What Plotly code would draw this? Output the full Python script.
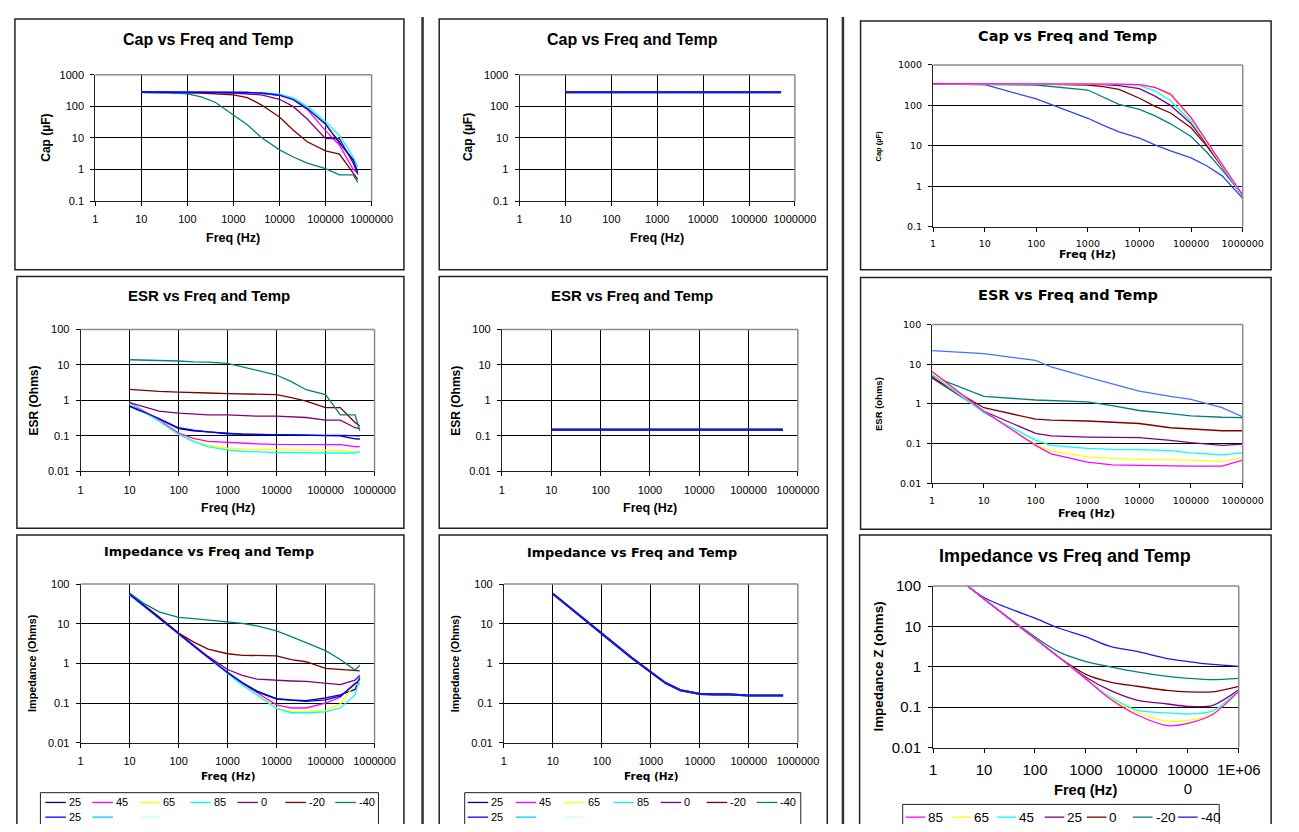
import plotly.graph_objects as go

# ---------------- DATA ----------------
freq_a = [10, 20, 40, 100, 200, 400, 1000, 2000, 4000, 10000, 20000, 40000, 100000, 200000, 400000, 500000]

temps_a = ["25", "45", "65", "85", "0", "-20", "-40", "25"]
colors_a = ["#000080", "#FF00FF", "#FFFF00", "#00FFFF", "#800080", "#800000", "#008080", "#0000FF"]
legend_extra_colors = ["#00CCFF", "#CCFFFF"]

cap_a_25 = [285, 285, 285, 285, 285, 283, 280, 275, 265, 230, 170, 85, 28, 7.5, 2.0, 0.75]
cap_a_45 = [280, 280, 280, 280, 280, 278, 275, 270, 260, 225, 160, 80, 17, 6, 1.0, 0.8]
cap_a_65 = [282, 282, 282, 282, 281, 280, 278, 273, 265, 235, 175, 90, 25, 9, 1.5, 1.3]
cap_a_85 = [285, 285, 285, 285, 285, 284, 282, 278, 272, 245, 185, 100, 33, 12, 2.5, 1.2]
cap_a_0 = [280, 280, 279, 278, 276, 272, 265, 250, 230, 168, 98, 40, 9.5, 9.5, 1.6, 0.7]
cap_a_m20 = [280, 280, 278, 270, 262, 250, 230, 190, 112, 46, 17.5, 7.6, 3.9, 3.1, 0.8, 0.49]
cap_a_m40 = [275, 272, 268, 250, 200, 135, 51, 26, 10.5, 4.2, 2.5, 1.6, 1.07, 0.68, 0.68, 0.39]
cap_a_25b = [285, 285, 285, 285, 285, 283, 280, 275, 265, 225, 165, 85, 27, 7, 2.0, 0.8]

esr_a_25 = [0.68, 0.45, 0.30, 0.16, 0.14, 0.13, 0.115, 0.112, 0.11, 0.105, 0.103, 0.102, 0.10, 0.10, 0.083, 0.082]
esr_a_45 = [0.85, 0.50, 0.28, 0.12, 0.085, 0.07, 0.065, 0.062, 0.06, 0.058, 0.058, 0.057, 0.057, 0.057, 0.05, 0.05]
esr_a_65 = [0.80, 0.46, 0.26, 0.11, 0.075, 0.055, 0.045, 0.043, 0.042, 0.04, 0.04, 0.04, 0.039, 0.039, 0.036, 0.035]
esr_a_85 = [0.85, 0.47, 0.26, 0.11, 0.07, 0.05, 0.04, 0.037, 0.035, 0.034, 0.034, 0.033, 0.033, 0.033, 0.033, 0.036]
esr_a_0 = [0.86, 0.65, 0.50, 0.44, 0.42, 0.39, 0.39, 0.37, 0.36, 0.36, 0.35, 0.33, 0.28, 0.28, 0.17, 0.16]
esr_a_m20 = [2.05, 1.9, 1.8, 1.72, 1.7, 1.62, 1.55, 1.5, 1.45, 1.45, 1.2, 0.96, 0.63, 0.63, 0.24, 0.19]
esr_a_m40 = [14, 13.7, 13.5, 12.9, 12.2, 12, 11, 8.8, 7.2, 5.2, 3.4, 2.0, 1.46, 0.39, 0.39, 0.14]
esr_a_25b = [0.70, 0.47, 0.31, 0.17, 0.145, 0.13, 0.118, 0.113, 0.11, 0.107, 0.105, 0.104, 0.103, 0.103, 0.102, 0.10]

imp_a_25 = [54, 27, 14, 5.5, 2.8, 1.4, 0.6, 0.33, 0.2, 0.13, 0.12, 0.115, 0.135, 0.16, 0.22, 0.45]
imp_a_45 = [54, 27, 14, 5.5, 2.8, 1.4, 0.58, 0.3, 0.18, 0.09, 0.075, 0.075, 0.1, 0.14, 0.32, 0.30]
imp_a_65 = [54, 27, 14, 5.5, 2.8, 1.4, 0.56, 0.29, 0.17, 0.075, 0.062, 0.062, 0.065, 0.095, 0.30, 0.28]
imp_a_85 = [54, 27, 13.5, 5.4, 2.7, 1.35, 0.55, 0.28, 0.16, 0.072, 0.057, 0.057, 0.06, 0.075, 0.16, 0.42]
imp_a_0 = [55, 28, 14, 5.6, 2.9, 1.5, 0.7, 0.5, 0.4, 0.37, 0.36, 0.35, 0.32, 0.29, 0.38, 0.5]
imp_a_m20 = [56, 29, 15, 5.8, 3.5, 2.3, 1.75, 1.6, 1.55, 1.55, 1.25, 1.1, 0.75, 0.7, 0.65, 0.65]
imp_a_m40 = [59, 32, 20, 14.5, 13.5, 12.5, 11.5, 10.2, 8.8, 6.6, 4.7, 3.3, 2.1, 1.25, 0.68, 0.9]
imp_a_25b = [55, 28, 14, 5.6, 2.8, 1.4, 0.58, 0.32, 0.19, 0.125, 0.115, 0.11, 0.12, 0.15, 0.30, 0.40]

# middle column (single part)
cap_b = [280, 280, 280, 280, 280, 280, 280, 280, 280, 280, 280, 280, 280, 280, 280, 280]
esr_b = [0.15, 0.15, 0.15, 0.15, 0.15, 0.15, 0.15, 0.15, 0.15, 0.15, 0.15, 0.15, 0.15, 0.15, 0.15, 0.15]
imp_b = [57, 28, 14, 5.6, 2.8, 1.4, 0.6, 0.32, 0.21, 0.17, 0.165, 0.165, 0.155, 0.155, 0.155, 0.155]

# right column
temps_c = ["85", "65", "45", "25", "0", "-20", "-40"]
colors_c = ["#FF00FF", "#FFFF00", "#00FFFF", "#800080", "#800000", "#008080", "#1A1AE6"]

freq_c_cap = [1, 10, 100, 1000, 2000, 4000, 10000, 20000, 40000, 100000, 200000, 400000, 1000000]
cap_c_85 = [343, 343, 342, 340, 338, 336, 325, 280, 190, 50, 13, 3.5, 0.6]
cap_c_65 = [343, 343, 342, 340, 338, 335, 320, 270, 175, 45, 12, 3.3, 0.58]
cap_c_45 = [342, 342, 340, 338, 335, 330, 310, 230, 130, 40, 12, 3.2, 0.55]
cap_c_25 = [340, 340, 338, 335, 325, 310, 260, 170, 100, 35, 11, 3, 0.55]
cap_c_0 = [338, 337, 335, 320, 290, 250, 150, 95, 65, 28, 10, 3, 0.6]
cap_c_m20 = [335, 333, 320, 240, 160, 106, 80, 55, 35, 17, 7, 2.5, 0.6]
cap_c_m40 = [340, 325, 145, 48, 32, 22, 15.5, 10.5, 7.5, 5, 3.2, 1.8, 0.5]

freq_c_esr = [1, 10, 100, 200, 1000, 3000, 10000, 40000, 100000, 400000, 1000000]
esr_c_85 = [6.5, 0.65, 0.09, 0.055, 0.034, 0.029, 0.028, 0.027, 0.027, 0.027, 0.038]
esr_c_65 = [6, 0.65, 0.095, 0.065, 0.046, 0.042, 0.04, 0.039, 0.038, 0.035, 0.044]
esr_c_45 = [5.5, 0.6, 0.12, 0.09, 0.075, 0.071, 0.07, 0.066, 0.058, 0.052, 0.058]
esr_c_25 = [4.5, 0.65, 0.18, 0.155, 0.145, 0.14, 0.14, 0.12, 0.105, 0.09, 0.097]
esr_c_0 = [4.7, 0.8, 0.41, 0.39, 0.37, 0.35, 0.32, 0.25, 0.23, 0.21, 0.21]
esr_c_m20 = [5, 1.55, 1.25, 1.2, 1.12, 0.9, 0.68, 0.57, 0.5, 0.46, 0.45]
esr_c_m40 = [22, 18.5, 12.5, 8.5, 4.7, 3.2, 2.1, 1.55, 1.3, 0.8, 0.47]

freq_c_imp = [1, 10, 100, 300, 1000, 3000, 10000, 40000, 100000, 300000, 1000000]
imp_c_85 = [480, 48, 5, 1.7, 0.5, 0.16, 0.065, 0.035, 0.04, 0.065, 0.25]
imp_c_65 = [480, 48, 5, 1.7, 0.5, 0.17, 0.075, 0.045, 0.047, 0.07, 0.25]
imp_c_45 = [480, 48, 5, 1.7, 0.5, 0.18, 0.085, 0.072, 0.068, 0.08, 0.26]
imp_c_25 = [480, 48, 5, 1.7, 0.55, 0.26, 0.15, 0.12, 0.105, 0.11, 0.27]
imp_c_0 = [480, 48, 5, 1.7, 0.65, 0.42, 0.33, 0.26, 0.24, 0.24, 0.33]
imp_c_m20 = [480, 48, 5.5, 2.3, 1.35, 1.0, 0.75, 0.58, 0.52, 0.48, 0.52]
imp_c_m40 = [480, 52, 16, 9, 5.5, 3.2, 2.4, 1.6, 1.35, 1.15, 1.03]

xtick_vals = [1, 10, 100, 1000, 10000, 100000, 1000000]
xtick_text = ["1", "10", "100", "1000", "10000", "100000", "1000000"]
xtick_text_imp_c = ["1", "10", "100", "1000", "10000", "10000<br>0", "1E+06"]
ytick_vals_cap = [0.1, 1, 10, 100, 1000]
ytick_text_cap = ["0.1", "1", "10", "100", "1000"]
ytick_vals_z = [0.01, 0.1, 1, 10, 100]
ytick_text_z = ["0.01", "0.1", "1", "10", "100"]

# ---------------- LAYOUT HELPERS ----------------
VW, VH = 1299, 832          # browser viewport
OFF = 8                     # default page margin around the figure
W, H = VW - OFF, VH - OFF   # figure fits inside the viewport (no overflow)
ARIAL = "Liberation Sans, Arial, sans-serif"
DEJA = "DejaVu Sans, sans-serif"


def px(x):
    return (x - OFF) / W


def py(y):
    return min(1.0, max(0.0, 1 - (y - OFF) / H))


fig = go.Figure()
shapes = []
annos = []

# panel definitions: plot area (x0, x1, y0, y1) in screen pixels
panels = [
    dict(area=(93, 375, 67, 196), yr=(-1, 3), yt=(ytick_vals_cap, ytick_text_cap), xt=xtick_text, tickfont=(ARIAL, 11), vgrid=True),
    dict(area=(78, 378, 327, 472), yr=(-2, 2), yt=(ytick_vals_z, ytick_text_z), xt=xtick_text, tickfont=(ARIAL, 11), vgrid=True),
    dict(area=(78, 378, 587, 749), yr=(-2, 2), yt=(ytick_vals_z, ytick_text_z), xt=xtick_text, tickfont=(ARIAL, 11), vgrid=True),
    dict(area=(526, 807, 67, 196), yr=(-1, 3), yt=(ytick_vals_cap, ytick_text_cap), xt=xtick_text, tickfont=(ARIAL, 11), vgrid=True),
    dict(area=(508, 810, 327, 472), yr=(-2, 2), yt=(ytick_vals_z, ytick_text_z), xt=xtick_text, tickfont=(ARIAL, 11), vgrid=True),
    dict(area=(510, 810, 587, 749), yr=(-2, 2), yt=(ytick_vals_z, ytick_text_z), xt=xtick_text, tickfont=(ARIAL, 11), vgrid=True),
    dict(area=(948, 1264, 57, 222), yr=(-1, 3), yt=(ytick_vals_cap, ytick_text_cap), xt=xtick_text, tickfont=(DEJA, 9.5), vgrid=False),
    dict(area=(947, 1264, 322, 484), yr=(-2, 2), yt=(ytick_vals_z, ytick_text_z), xt=xtick_text, tickfont=(DEJA, 9.5), vgrid=False),
    dict(area=(948, 1260, 589, 754), yr=(-2, 2), yt=(ytick_vals_z, ytick_text_z), xt=xtick_text_imp_c, tickfont=(ARIAL, 15), vgrid=False),
]

layout_axes = {}
for i, p in enumerate(panels, start=1):
    x0, x1, y0, y1 = p["area"]
    sfx = "" if i == 1 else str(i)
    fam, size = p["tickfont"]
    layout_axes["xaxis" + sfx] = dict(
        domain=[px(x0), px(x1)], anchor="y" + sfx, type="log", range=[0, 6],
        tickmode="array", tickvals=xtick_vals, ticktext=p["xt"],
        ticks="outside", ticklen=4, tickcolor="#000", tickwidth=1,
        showline=True, linecolor="#222", linewidth=1,
        showgrid=p["vgrid"], gridcolor="#000", gridwidth=1,
        tickfont=dict(family=fam, size=size, color="#000"),
        ticklabelstandoff=4, fixedrange=True,
    )
    layout_axes["yaxis" + sfx] = dict(
        domain=[py(y1), py(y0)], anchor="x" + sfx, type="log", range=list(p["yr"]),
        tickmode="array", tickvals=p["yt"][0], ticktext=p["yt"][1],
        ticks="outside", ticklen=4, tickcolor="#000", tickwidth=1,
        showline=True, linecolor="#222", linewidth=1,
        showgrid=True, gridcolor="#000", gridwidth=1,
        tickfont=dict(family=fam, size=size, color="#000"),
        ticklabelstandoff=4, fixedrange=True,
    )
    # top and right plot-area borders (gray)
    xr = "x" + sfx + " domain"
    yr = "y" + sfx + " domain"
    shapes.append(dict(type="line", xref=xr, yref=yr, x0=0, x1=1, y0=1, y1=1, line=dict(color="#8c8c8c", width=1.5)))
    shapes.append(dict(type="line", xref=xr, yref=yr, x0=1, x1=1, y0=0, y1=1, line=dict(color="#8c8c8c", width=1.5)))


def add_series(idx, xs, ys, color, width=1.2, name="", spline=False):
    sfx = "" if idx == 1 else str(idx)
    fig.add_trace(go.Scatter(
        x=xs, y=ys, mode="lines", name=name, showlegend=False,
        line=dict(color=color, width=width, shape="spline" if spline else "linear", smoothing=0.8),
        xaxis="x" + sfx, yaxis="y" + sfx, hoverinfo="skip",
    ))


# column A
cap_a = [cap_a_25, cap_a_45, cap_a_65, cap_a_85, cap_a_0, cap_a_m20, cap_a_m40, cap_a_25b]
esr_a = [esr_a_25, esr_a_45, esr_a_65, esr_a_85, esr_a_0, esr_a_m20, esr_a_m40, esr_a_25b]
imp_a = [imp_a_25, imp_a_45, imp_a_65, imp_a_85, imp_a_0, imp_a_m20, imp_a_m40, imp_a_25b]
for ys, c, t in zip(cap_a, colors_a, temps_a):
    add_series(1, freq_a, ys, c, 1.3, t)
for ys, c, t in zip(esr_a, colors_a, temps_a):
    add_series(2, freq_a, ys, c, 1.3, t)
for ys, c, t in zip(imp_a, colors_a, temps_a):
    add_series(3, freq_a, ys, c, 1.3, t)

# column B
add_series(4, freq_a, cap_b, "#000080", 2.2, "25")
add_series(4, freq_a, cap_b, "#1a1ad9", 2.0, "25")
add_series(5, freq_a, esr_b, "#000080", 2.2, "25")
add_series(5, freq_a, esr_b, "#1a1ad9", 2.0, "25")
add_series(6, freq_a, imp_b, "#000080", 2.2, "25")
add_series(6, freq_a, imp_b, "#1a1ad9", 2.0, "25")

# column C (draw -40 first so warm colours sit on top like the original)
cap_c = [cap_c_85, cap_c_65, cap_c_45, cap_c_25, cap_c_0, cap_c_m20, cap_c_m40]
esr_c = [esr_c_85, esr_c_65, esr_c_45, esr_c_25, esr_c_0, esr_c_m20, esr_c_m40]
imp_c = [imp_c_85, imp_c_65, imp_c_45, imp_c_25, imp_c_0, imp_c_m20, imp_c_m40]
cap_c_colors = colors_c[:-1] + ["#3344EE"]
esr_c_colors = colors_c[:-1] + ["#4A70FF"]
for ys, c, t in reversed(list(zip(cap_c, cap_c_colors, temps_c))):
    add_series(7, freq_c_cap, ys, c, 1.3, t)
for ys, c, t in reversed(list(zip(esr_c, esr_c_colors, temps_c))):
    add_series(8, freq_c_esr, ys, c, 1.3, t)
for ys, c, t in reversed(list(zip(imp_c, colors_c, temps_c))):
    add_series(9, freq_c_imp, ys, c, 1.3, t, spline=True)


# ---------------- TEXT ----------------
def text(x, y, s, fam, size, bold=True, angle=0, xanchor="center"):
    annos.append(dict(
        xref="paper", yref="paper", x=px(x), y=py(y), text=("<b>%s</b>" % s) if bold else s,
        showarrow=False, xanchor=xanchor, yanchor="middle", textangle=angle,
        font=dict(family=fam, size=size, color="#000"),
    ))


# titles
text(209, 31, "Cap vs Freq and Temp", ARIAL, 16)
text(209, 292, "ESR vs Freq and Temp", ARIAL, 15)
text(209, 554, "Impedance vs Freq and Temp", DEJA, 12.8)
text(641, 31, "Cap vs Freq and Temp", ARIAL, 16)
text(641, 292, "ESR vs Freq and Temp", ARIAL, 15)
text(641, 555, "Impedance vs Freq and Temp", DEJA, 12.8)
text(1085, 27, "Cap vs Freq and Temp", DEJA, 14.5)
text(1086, 292, "ESR vs Freq and Temp", DEJA, 14.5)
text(1083, 558, "Impedance vs Freq and Temp", ARIAL, 18)

# x axis titles
text(234, 234, "Freq (Hz)", ARIAL, 12.5)
text(228, 509, "Freq (Hz)", ARIAL, 12.5)
text(228, 783, "Freq (Hz)", DEJA, 10.5)
text(666, 234, "Freq (Hz)", ARIAL, 12.5)
text(659, 509, "Freq (Hz)", ARIAL, 12.5)
text(660, 783, "Freq (Hz)", DEJA, 10.5)
text(1106, 251, "Freq (Hz)", DEJA, 11)
text(1105, 515, "Freq (Hz)", DEJA, 11)
text(1104, 797, "Freq (Hz)", ARIAL, 14.6)

# y axis titles
text(43, 131, "Cap (µF)", ARIAL, 12, angle=-90)
text(30, 400, "ESR (Ohms)", ARIAL, 12, angle=-90)
text(29, 668, "Impedance (Ohms)", ARIAL, 10.8, angle=-90)
text(474, 131, "Cap (µF)", ARIAL, 12, angle=-90)
text(461, 400, "ESR (Ohms)", ARIAL, 12, angle=-90)
text(461, 668, "Impedance (Ohms)", ARIAL, 10.8, angle=-90)
text(892, 140, "Cap (µF)", ARIAL, 7.5, angle=-90)
text(893, 403, "ESR (ohms)", ARIAL, 9.5, angle=-90)
text(892, 671, "Impedance Z (ohms)", ARIAL, 13.4, angle=-90)

BOTTOM = VH  # bottom edge of the visible page


# ---------------- FRAMES ----------------
def frame(x0, x1, y0, y1, color="#222", width=1.5):
    if y1 >= BOTTOM:  # open-bottom frame running off the page
        path = "M %f,%f L %f,%f L %f,%f L %f,%f" % (px(x0), py(y1), px(x0), py(y0), px(x1), py(y0), px(x1), py(y1))
    else:
        path = "M %f,%f L %f,%f L %f,%f L %f,%f Z" % (px(x0), py(y1), px(x0), py(y0), px(x1), py(y0), px(x1), py(y1))
    shapes.append(dict(type="path", xref="paper", yref="paper", path=path, line=dict(color=color, width=width)))


boxes = [(11, 408, 10, 266), (13, 408, 273, 530), (13, 408, 537, BOTTOM),
         (444, 840, 10, 266), (444, 840, 273, 530), (444, 840, 537, BOTTOM),
         (874, 1293, 12, 266), (874, 1293, 274, 531), (873, 1293, 537, BOTTOM)]
for b in boxes:
    frame(*b)
for sx in (427, 856):
    shapes.append(dict(type="line", xref="paper", yref="paper", x0=px(sx), x1=px(sx), y0=py(BOTTOM), y1=py(8),
                       line=dict(color="#333", width=2.5)))


# ---------------- MANUAL LEGENDS ----------------
def legend(box, entries, fam, size, linelen=21):
    x0, x1, y0 = box
    frame(x0, x1, y0, BOTTOM, width=1)
    for (lx, ly, color, label) in entries:
        shapes.append(dict(type="line", xref="paper", yref="paper", x0=px(lx), x1=px(lx + linelen),
                           y0=py(ly), y1=py(ly), line=dict(color=color, width=1.3)))
        if label:
            text(lx + linelen + 1, ly, label, fam, size, bold=False, xanchor="left")


lx_a = [42, 90, 138, 190, 238, 287, 338]
ent_a = [(x, 810, c, t) for x, c, t in zip(lx_a, colors_a[:7], temps_a[:7])]
ent_a += [(42, 825, colors_a[7], "25"), (90, 825, legend_extra_colors[0], ""), (138, 825, legend_extra_colors[1], "")]
legend((37, 382, 800), ent_a, ARIAL, 11)

lx_b = [473, 522, 572, 622, 670, 717, 768]
ent_b = [(x, 810, c, t) for x, c, t in zip(lx_b, colors_a[:7], temps_a[:7])]
ent_b += [(473, 825, colors_a[7], "25"), (522, 825, legend_extra_colors[0], ""), (572, 825, legend_extra_colors[1], "")]
legend((470, 813, 800), ent_b, ARIAL, 11)

lx_c = [920, 967, 1013, 1062, 1105, 1152, 1198]
ent_c = [(x, 825, c, t) for x, c, t in zip(lx_c, colors_c, temps_c)]
legend((917, 1240, 812), ent_c, ARIAL, 13.5, linelen=20)

fig.update_layout(
    width=W, height=H, margin=dict(l=0, r=0, t=0, b=0),
    paper_bgcolor="white", plot_bgcolor="white", showlegend=False,
    shapes=shapes, annotations=annos, **layout_axes,
)

fig.write_html("out.html", config={"displayModeBar": False})
